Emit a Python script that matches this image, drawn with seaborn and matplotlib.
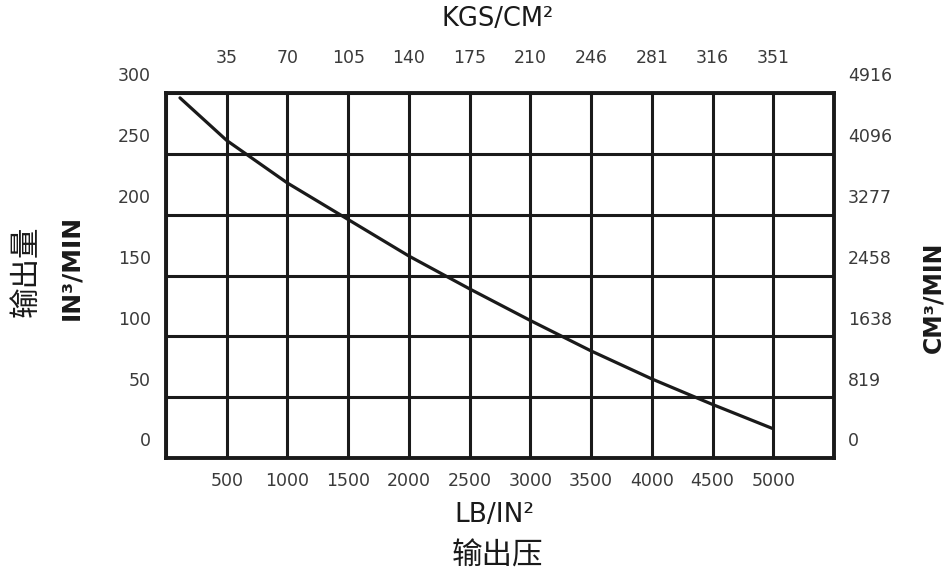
"""Pump curve: output flow vs. output pressure, with metric twin axes."""

import matplotlib

matplotlib.use("Agg")
import matplotlib.pyplot as plt          # noqa: E402
import matplotlib.transforms as mtrans   # noqa: E402
import pandas as pd                      # noqa: E402
import seaborn as sns                    # noqa: E402

# curve
pressure_psi = [115, 500, 1000, 1500, 2000, 2500, 3000, 3500, 4000, 4500, 5000]
flow_in3_min = [296, 261, 226, 196, 166, 139, 113, 88, 65, 44, 24]

# axes
psi_ticks = [0, 500, 1000, 1500, 2000, 2500, 3000, 3500, 4000, 4500, 5000, 5500]
psi_labels = ["", "500", "1000", "1500", "2000", "2500", "3000", "3500",
              "4000", "4500", "5000", ""]
kgs_labels = ["", "35", "70", "105", "140", "175", "210", "246", "281",
              "316", "351", ""]
flow_ticks = [0, 50, 100, 150, 200, 250, 300]
flow_labels = ["0", "50", "100", "150", "200", "250", "300"]
cm3_labels = ["0", "819", "1638", "2458", "3277", "4096", "4916"]

LATIN = ["DejaVu Sans"]
CJK = ["Noto Sans CJK SC", "DejaVu Sans"]
INK = "#1a1a1a"
TICK_INK = "#3a3a3a"
TICK_FS = 12.5

sns.set_theme(style="white")
plt.rcParams["font.family"] = LATIN

df = pd.DataFrame({"psi": pressure_psi, "flow": flow_in3_min})

W, H = 946, 575
fig = plt.figure(figsize=(W / 100, H / 100), dpi=100)
ax = fig.add_axes([166 / W, 1 - 458 / H, (834 - 166) / W, (458 - 93) / H])

sns.lineplot(data=df, x="psi", y="flow", ax=ax, color=INK, lw=2.3, zorder=5)

ax.set_xlim(psi_ticks[0], psi_ticks[-1])
ax.set_ylim(flow_ticks[0], flow_ticks[-1])
ax.set_xticks(psi_ticks)
ax.set_xticklabels(psi_labels)
ax.set_yticks(flow_ticks)
ax.set_yticklabels(flow_labels)
ax.set_xlabel(""); ax.set_ylabel("")
ax.grid(True, color=INK, lw=2.2)
for s in ax.spines.values():
    s.set_visible(True); s.set_color(INK); s.set_linewidth(2.8)
ax.tick_params(axis="both", length=0, labelsize=TICK_FS, colors=TICK_INK)
ax.tick_params(axis="x", pad=10)
ax.tick_params(axis="y", pad=11)

# metric twins share the same grid
axr = ax.twinx()
axr.set_ylim(ax.get_ylim())
axr.set_yticks(flow_ticks)
axr.set_yticklabels(cm3_labels)
axr.tick_params(axis="y", length=0, labelsize=TICK_FS, colors=TICK_INK, pad=10)
axr.grid(False)

axt = ax.twiny()
axt.set_xlim(ax.get_xlim())
axt.set_xticks(psi_ticks)
axt.set_xticklabels(kgs_labels)
axt.tick_params(axis="x", length=0, labelsize=TICK_FS, colors=TICK_INK, pad=19)
axt.grid(False)
for a in (axr, axt):
    for s in a.spines.values():
        s.set_visible(False)

# the scan has its y labels sitting above the grid lines
shift = mtrans.ScaledTranslation(0, 0.185, fig.dpi_scale_trans)
for lab in ax.get_yticklabels() + axr.get_yticklabels():
    lab.set_transform(lab.get_transform() + shift)

fig.text(498 / W, 1 - 19 / H, "KGS/CM²", ha="center", va="center",
         fontsize=18.5, color=INK)
fig.text(494 / W, 1 - 515 / H, "LB/IN²", ha="center", va="center",
         fontsize=19, color=INK)
fig.text(497 / W, 1 - 556 / H, "输出压", ha="center", va="center",
         fontsize=22, color=INK, family=CJK)
fig.text(26 / W, 1 - 271 / H, "输出量", ha="center", va="center",
         fontsize=22, color=INK, family=CJK, rotation=90)
fig.text(71 / W, 1 - 267 / H, "IN³/MIN", ha="center", va="center",
         fontsize=18, color=INK, rotation=90, fontweight="bold")
fig.text(933 / W, 1 - 297 / H, "CM³/MIN", ha="center", va="center",
         fontsize=17, color=INK, rotation=90, fontweight="bold")

fig.savefig("out.png", dpi=100, facecolor="white")
plt.close(fig)
